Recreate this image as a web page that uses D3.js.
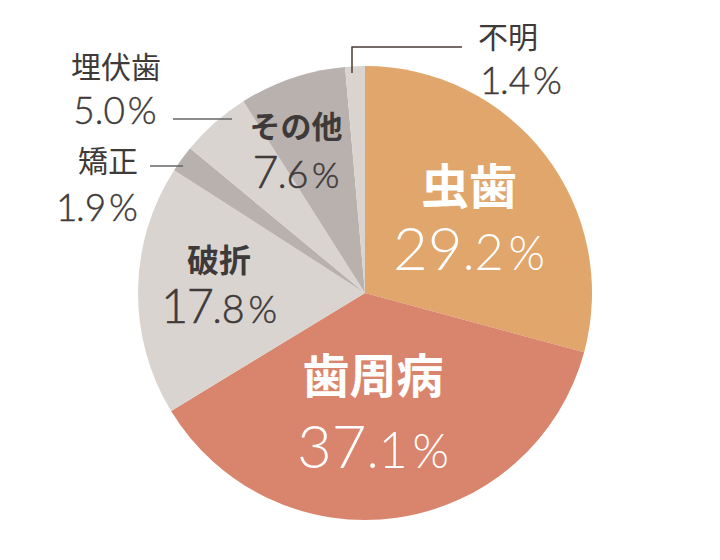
<!DOCTYPE html>
<html><head><meta charset="utf-8">
<script src="https://cdn.jsdelivr.net/npm/d3@7"></script>
<style>body{margin:0;background:#fff}</style>
</head><body>
<svg id="c" width="720" height="560"></svg>
<script>
const categories = ["虫歯","歯周病","破折","矯正","埋伏歯","その他","不明"];
const values = [29.2, 37.1, 17.8, 1.9, 5.0, 7.6, 1.4];
const colors = ["#E0A66B","#D9856D","#D9D4D0","#B8B1AD","#D9D4D0","#B8B1AD","#D9D4D0"];

const W = 720, H = 560, cx = 365, cy = 293, R = 227;
const svg = d3.select("#c");
const g = svg.append("g").attr("transform", `translate(${cx},${cy})`);
const pie = d3.pie().sort(null).value(d => d)(values);
const arc = d3.arc().innerRadius(0).outerRadius(R);
g.selectAll("path").data(pie).join("path")
  .attr("d", arc).attr("fill", (d,i) => colors[i]);

const CJK = "'Noto Sans CJK JP','Noto Sans CJK SC',sans-serif";
const NUM = "Lato,'Open Sans',sans-serif";
const dark = "#3E3A39";

// label layout (offsets from pie centre): inside labels
const inside = [
  {i:0, x:104, nameY:-89, numY:-23, nameSize:48, numSize:60, fill:"#fff", w:300, ls:0},
  {i:1, x:8,  nameY:100, numY:175, nameSize:47, numSize:60, fill:"#fff", w:300, ls:0},
  {i:2, x:-146, nameY:-21, numY:30, nameSize:32, numSize:47, fill:dark, w:300, ls:-1.5},
  {i:5, x:-69, nameY:-155, numY:-105, nameSize:31, numSize:45, fill:dark, w:300, ls:-1}
];
function pctText(sel, v, size, uniform, ls){
  const s = v.toFixed(1).split(".");
  sel.append("tspan").attr("font-size", size).attr("letter-spacing", ls||0).text(s[0]);
  sel.append("tspan").attr("font-size", uniform ? size : size*0.84).attr("letter-spacing", 0).text("." + s[1]);
  sel.append("tspan").attr("font-size", uniform ? size : size*0.78).attr("dx", size*0.08).text("%");
}
inside.forEach(L => {
  g.append("text").attr("x", L.x).attr("y", L.nameY)
    .attr("text-anchor","middle").attr("font-family", CJK).attr("font-weight", 700)
    .attr("font-size", L.nameSize).attr("fill", L.fill).text(categories[L.i]);
  const n = g.append("text").attr("x", L.x).attr("y", L.numY)
    .attr("text-anchor","middle").attr("font-family", NUM).attr("font-weight", L.w)
    .attr("stroke", L.fill === dark ? dark : "none").attr("stroke-width", 0.5)
    .attr("fill", L.fill);
  pctText(n, values[L.i], L.numSize, false, L.ls);
});

// outside labels
const outside = [
  {i:4, x:-249, nameY:-215, numY:-169, numX:-250, ls:0, line:[[-192,-174],[-133,-174]], lc:"#666"},
  {i:3, x:-257, nameY:-121, numY:-72, numX:-268, ls:-1.5, line:[[-215,-127],[-182,-127]], lc:"#666"},
  {i:6, x:143, nameY:-245, numY:-199, numX:156, ls:-1.5, line:[[97,-246],[-13,-246],[-13,-220]], lc:"#4A3B35"}
];
outside.forEach(L => {
  g.append("text").attr("x", L.x).attr("y", L.nameY)
    .attr("text-anchor", "middle").attr("font-family", CJK).attr("font-weight", 400)
    .attr("font-size", 30).attr("fill", dark).text(categories[L.i]);
  const n = g.append("text").attr("x", L.numX).attr("y", L.numY)
    .attr("text-anchor", "middle").attr("font-family", NUM).attr("font-weight", 300)
    .attr("stroke", dark).attr("stroke-width", 0.4)
    .attr("fill", dark);
  pctText(n, values[L.i], 37, true, L.ls);
  g.append("path").attr("d", d3.line()(L.line)).attr("fill","none")
    .attr("stroke", L.lc).attr("stroke-width", 1.5);
});
</script>
</body></html>
